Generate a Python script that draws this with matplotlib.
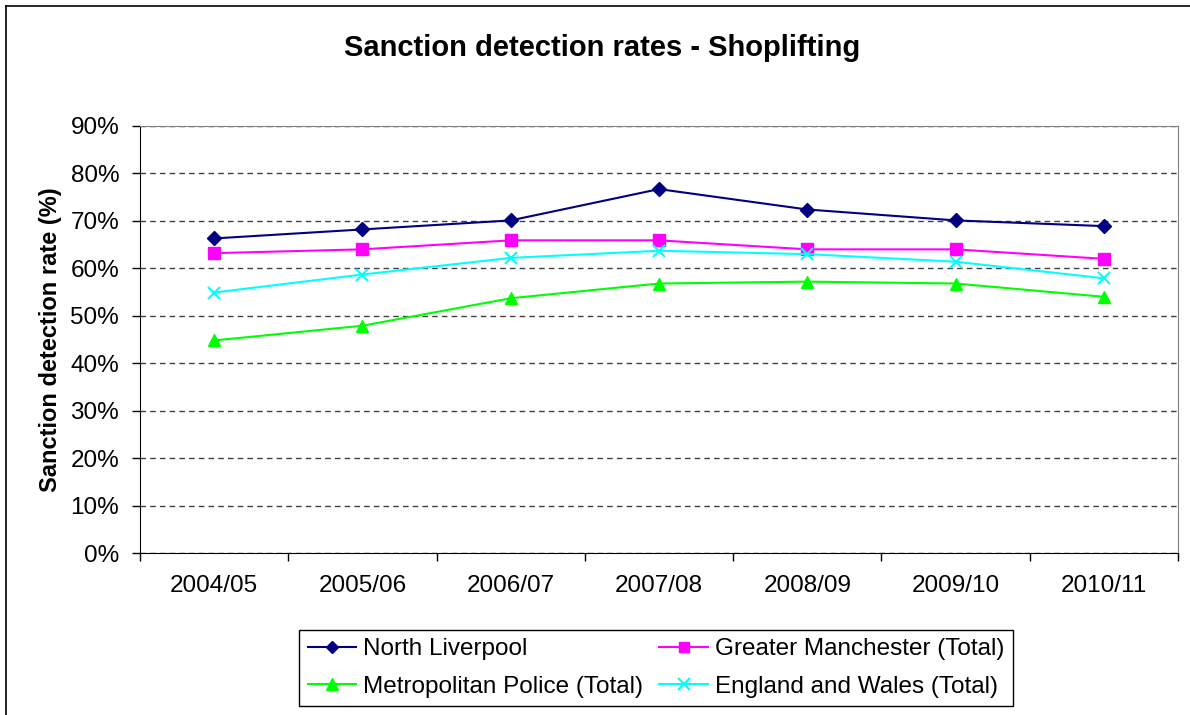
import matplotlib
matplotlib.use("Agg")
import matplotlib.pyplot as plt
from matplotlib.ticker import FuncFormatter, MultipleLocator
from matplotlib.lines import Line2D

plt.rcParams["font.family"] = ["Liberation Sans", "DejaVu Sans"]

years = ["2004/05", "2005/06", "2006/07", "2007/08", "2008/09", "2009/10", "2010/11"]
north_liverpool = [66.3, 68.2, 70.1, 76.7, 72.4, 70.1, 68.9]
greater_manchester = [63.2, 64.0, 65.9, 65.9, 64.0, 64.0, 62.0]
metropolitan = [44.8, 47.9, 53.7, 56.8, 57.2, 56.8, 54.0]
england_wales = [54.9, 58.7, 62.2, 63.7, 63.0, 61.4, 57.9]

fig = plt.figure(figsize=(11.9, 7.15), dpi=100)
ax = fig.add_axes([140 / 1190, 1 - 553 / 715, 1038 / 1190, 427 / 715])

x = range(len(years))
l1, = ax.plot(x, north_liverpool, color="#000080", marker="D", ms=7, lw=1.5,
              label="North Liverpool")
l2, = ax.plot(x, greater_manchester, color="#FF00FF", marker="s", ms=8, lw=1.5,
              label="Greater Manchester (Total)")
l3, = ax.plot(x, metropolitan, color="#00FF00", marker="^", ms=9, lw=1.5,
              label="Metropolitan Police (Total)")
l4, = ax.plot(x, england_wales, color="#00FFFF", marker="x", ms=9, mew=1.5, lw=1.5,
              label="England and Wales (Total)")

ax.set_xlim(-0.5, len(years) - 0.5)
ax.set_ylim(0, 90)
ax.yaxis.set_major_locator(MultipleLocator(10))
ax.yaxis.set_major_formatter(FuncFormatter(lambda v, p: f"{v:.0f}%"))
ax.grid(axis="y", ls=(0, (4, 3)), color="#404040", lw=1)
ax.set_axisbelow(True)

# category labels between boundary ticks
ax.set_xticks(list(x))
ax.set_xticklabels(years, fontsize=17.5)
ax.set_xticks([i - 0.5 for i in range(len(years) + 1)], minor=True)
ax.tick_params(axis="x", which="major", length=0, pad=16)
ax.tick_params(axis="x", which="minor", length=6, width=1, direction="out")
ax.tick_params(axis="y", labelsize=17.5, length=6, width=1, direction="out", pad=9)

for side in ("top", "right"):
    ax.spines[side].set_color("#808080")
for side in ("left", "bottom"):
    ax.spines[side].set_color("black")

ax.set_ylabel("Sanction detection rate (%)", fontsize=17, fontweight="bold", labelpad=6)
fig.text(0.506, 1 - 48 / 715, "Sanction detection rates - Shoplifting",
         ha="center", va="center", fontsize=21, fontweight="bold")

leg = fig.legend(handles=[l1, l3, l2, l4], ncol=2, loc="center",
                 bbox_to_anchor=(656 / 1190, 1 - 668 / 715), fontsize=17.5,
                 frameon=True, fancybox=False, edgecolor="black", framealpha=1,
                 handlelength=2.0, columnspacing=0.65, handletextpad=0.3,
                 borderpad=0.35, labelspacing=0.62, markerscale=0.9)
leg.get_frame().set_linewidth(1)

# outer chart border (left and top edges)
fig.add_artist(Line2D([6 / 1190, 6 / 1190], [0, 1 - 6 / 715], color="black", lw=1.2))
fig.add_artist(Line2D([6 / 1190, 1], [1 - 6 / 715, 1 - 6 / 715], color="black", lw=1.2))

fig.savefig("out.png", dpi=100)
